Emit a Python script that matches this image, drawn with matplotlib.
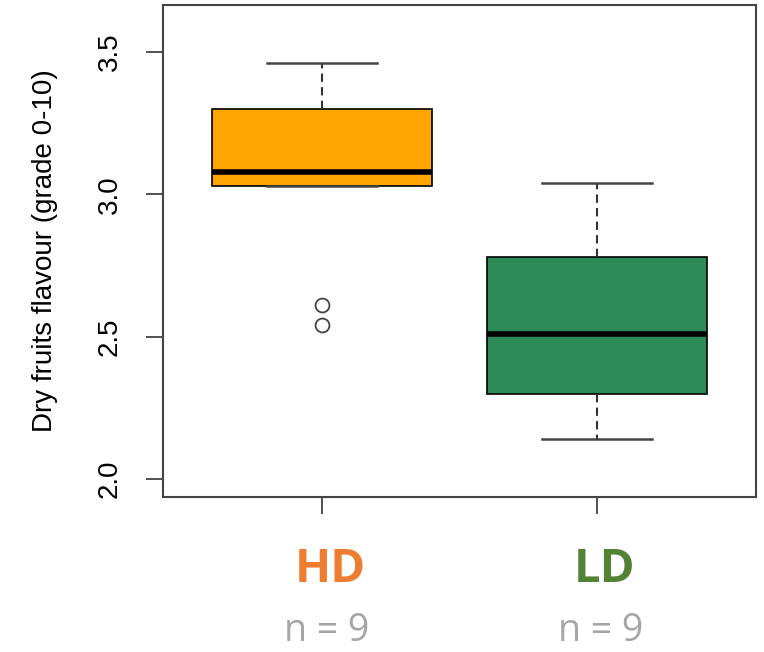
import matplotlib
matplotlib.use('Agg')
import matplotlib.pyplot as plt
import matplotlib.transforms as mtransforms

# boxplot summaries (grade 0-10)
groups = ['HD', 'LD']
counts = [9, 9]
medians = [3.08, 2.51]
q1 = [3.03, 2.30]
q3 = [3.30, 2.78]
whis_lo = [3.03, 2.14]
whis_hi = [3.46, 3.04]
outliers = [[2.61, 2.54], []]

box_colors = ['#FFA500', '#2E8B57']
label_colors = ['#ED7D31', '#548235']

stats = []
for i in range(len(groups)):
    stats.append({'label': groups[i], 'med': medians[i], 'q1': q1[i], 'q3': q3[i],
                  'whislo': whis_lo[i], 'whishi': whis_hi[i], 'fliers': outliers[i]})

fig = plt.figure(figsize=(7.64, 6.52), dpi=100)
ax = fig.add_axes([0.2134, 0.2377, 0.9895 - 0.2134, 0.9923 - 0.2377])

bp = ax.bxp(stats, positions=[1, 2], widths=0.8, patch_artist=True, showfliers=True,
            boxprops=dict(edgecolor='black', linewidth=1.2),
            medianprops=dict(color='black', linewidth=4, solid_capstyle='butt'),
            whiskerprops=dict(color='#333333', linewidth=1.5, linestyle=(0, (4, 2.5))),
            capprops=dict(color='#444444', linewidth=1.8),
            capwidths=0.4,
            flierprops=dict(marker='o', markersize=10, markerfacecolor='none',
                            markeredgecolor='#444444', markeredgewidth=1.3))
for patch, c in zip(bp['boxes'], box_colors):
    patch.set_facecolor(c)

ax.set_xlim(0.42, 2.58)
ax.set_ylim(1.937, 3.665)
ax.set_xticks([1, 2])
ax.set_xticklabels([])
ax.set_yticks([2.0, 2.5, 3.0, 3.5])
ax.set_yticklabels(['2.0', '2.5', '3.0', '3.5'], rotation=90, va='center',
                   fontsize=20, family='Liberation Sans')
ax.tick_params(length=12, width=1.2, color='#333333')
ax.tick_params(axis='y', pad=17)
for s in ax.spines.values():
    s.set_color('#444444')
    s.set_linewidth(1.5)

ax.set_ylabel('Dry fruits flavour (grade 0-10)', fontsize=20, family='Liberation Sans', labelpad=28)

# group names and sample sizes under the axis
trans = mtransforms.blended_transform_factory(ax.transData, fig.transFigure)
for i, g in enumerate(groups):
    ax.text(i + 1 + 0.03, 1 - 570 / 652, g, transform=trans, ha='center', va='center',
            fontsize=34, fontweight='bold', color=label_colors[i], family='Open Sans')
    ax.text(i + 1 + 0.015, 1 - 650 / 652, 'n = %d' % counts[i], transform=trans,
            ha='center', va='bottom', fontsize=27, color='#A6A6A6', family='Open Sans')

fig.savefig('out.png', dpi=100)
